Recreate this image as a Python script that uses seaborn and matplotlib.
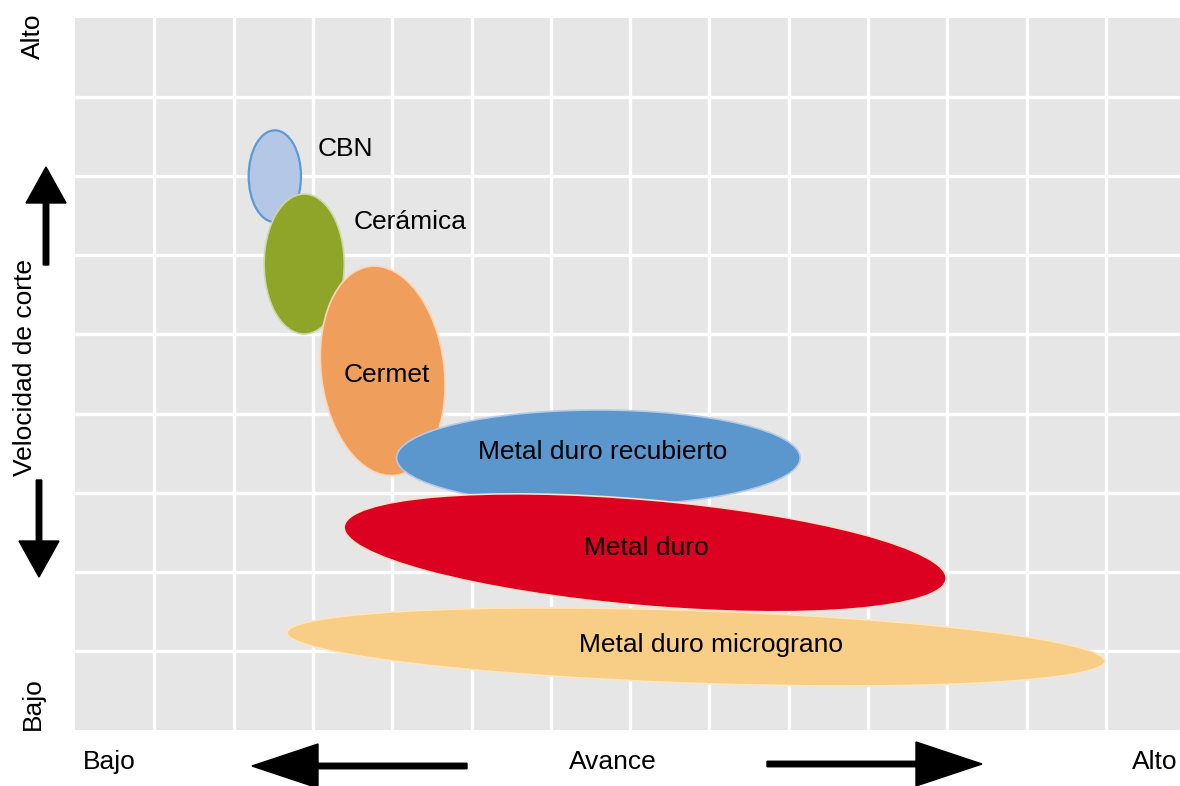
#!/usr/bin/env python3
# -*- coding: utf-8 -*-
"""
Diagrama de materiales de corte: velocidad de corte vs avance
"""

import matplotlib
matplotlib.use('Agg')
import matplotlib.pyplot as plt
import matplotlib.transforms as mtransforms
from matplotlib.patches import Ellipse, FancyArrow
import seaborn as sns

# Materiales y zonas de aplicación (unidades de la rejilla)
materiales = ['CBN', 'Cerámica', 'Cermet', 'Metal duro recubierto',
              'Metal duro micrograno', 'Metal duro']
avance_centro = [2.52, 2.89, 3.88, 6.60, 7.83, 7.19]
velocidad_centro = [7.00, 5.89, 4.54, 3.44, 1.05, 2.24]
avance_rango = [0.66, 1.01, 1.55, 5.09, 10.32, 7.62]
velocidad_rango = [1.16, 1.77, 2.66, 1.21, 0.92, 1.34]
inclinacion = [0, 0, 7, 0, -2, -5]

# Estilo
relleno = ['#b4c7e7', '#8fa52a', '#f09e5c', '#5b96cd', '#f8cd85', '#dc0021']
borde = ['#5b9bd5', '#cdd8a6', '#fbd5b5', '#b4cbe8', '#fde5bf', '#fde0c8']
grosor = [1.6, 1.2, 1.2, 1.2, 1.2, 1.2]

W, H = 1180, 786


def main():
    sns.set_style('darkgrid', {'axes.facecolor': '#e6e6e6', 'grid.color': 'white'})
    plt.rcParams['font.family'] = ['Liberation Sans', 'DejaVu Sans']
    plt.rcParams['text.color'] = 'black'

    fig = plt.figure(figsize=(W / 100, H / 100), dpi=100)
    ax = fig.add_axes([75 / W, 56 / H, (W - 75) / W, 712 / H])
    ax.set_xlim(0, (W - 75) / 79.3)
    ax.set_ylim(0, 9)
    ax.set_xticks(range(1, 14))
    ax.set_yticks(range(1, 9))
    ax.grid(True, color='white', linewidth=2.4)
    ax.tick_params(length=0, labelbottom=False, labelleft=False)
    for s in ax.spines.values():
        s.set_visible(False)

    for i, nombre in enumerate(materiales):
        zorder = 3 + i
        if nombre == 'Metal duro micrograno':
            zorder = 3 + 3
        e = Ellipse((avance_centro[i], velocidad_centro[i]), avance_rango[i],
                    velocidad_rango[i], angle=inclinacion[i], facecolor=relleno[i],
                    edgecolor=borde[i], linewidth=grosor[i], zorder=zorder)
        ax.add_patch(e)

    fs = 19
    ax.text(3.06, 7.35, 'CBN', fontsize=fs, ha='left', va='center', zorder=20)
    ax.text(3.51, 6.42, 'Cerámica', fontsize=fs, ha='left', va='center', zorder=20)
    ax.text(3.93, 4.49, 'Cermet', fontsize=fs, ha='center', va='center', zorder=20)
    ax.text(6.65, 3.51, 'Metal duro recubierto', fontsize=fs, ha='center',
            va='center', zorder=20)
    ax.text(7.2, 2.30, 'Metal duro', fontsize=fs, ha='center', va='center', zorder=20)
    ax.text(8.02, 1.07, 'Metal duro micrograno', fontsize=fs, ha='center',
            va='center', zorder=20)

    # Textos de los ejes
    fig.text(33 / W, 1 - 36 / H, 'Alto', rotation=90, fontsize=fs, ha='center', va='center')
    fig.text(25 / W, 1 - 368 / H, 'Velocidad de corte', rotation=90, fontsize=fs,
             ha='center', va='center')
    fig.text(33 / W, 1 - 704 / H, 'Bajo', rotation=90, fontsize=fs, ha='center', va='center')
    fig.text(83 / W, 1 - 762 / H, 'Bajo', fontsize=fs, ha='left', va='center')
    fig.text(613 / W, 1 - 762 / H, 'Avance', fontsize=fs, ha='center', va='center')
    fig.text(1177 / W, 1 - 762 / H, 'Alto', fontsize=fs, ha='right', va='center')

    # Flechas (en píxeles de la figura)
    ident = mtransforms.IdentityTransform()
    flechas = [
        (46, H - 265, 0, 98, 40),
        (39, H - 480, 0, -97, 40),
        (467, H - 766, -215, 0, 44),
        (767, H - 764, 215, 0, 44),
    ]
    for x, y, dx, dy, hw in flechas:
        a = FancyArrow(x, y, dx, dy, width=5.5, head_width=hw, head_length=66 if dx else 36,
                       length_includes_head=True, color='black', transform=ident)
        fig.add_artist(a)

    plt.savefig('out.png', dpi=100)


if __name__ == '__main__':
    main()
